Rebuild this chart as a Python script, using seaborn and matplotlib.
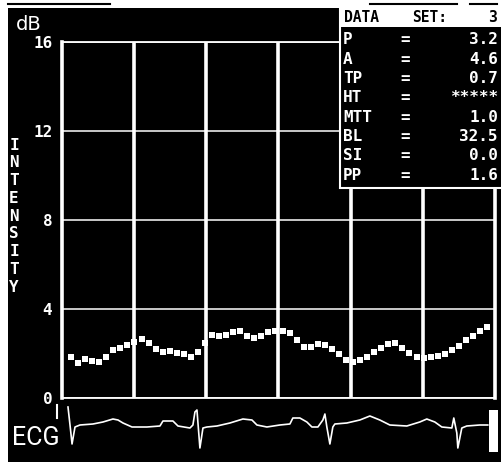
import numpy as np
import pandas as pd
import seaborn as sns
import matplotlib
matplotlib.use("Agg")
import matplotlib.pyplot as plt
from matplotlib.patches import Rectangle
from matplotlib.lines import Line2D

# intensity curve (dB), one value per frame
intensity_db = [1.85, 1.58, 1.76, 1.67, 1.62, 1.85, 2.16, 2.25, 2.39, 2.52,
                2.66, 2.48, 2.21, 2.07, 2.12, 2.03, 1.98, 1.85, 2.07, 2.48,
                2.84, 2.79, 2.84, 2.97, 3.02, 2.79, 2.70, 2.79, 2.97, 3.02,
                3.02, 2.93, 2.61, 2.30, 2.30, 2.43, 2.39, 2.21, 1.98, 1.71,
                1.62, 1.71, 1.85, 2.07, 2.25, 2.43, 2.48, 2.25, 2.03, 1.85,
                1.80, 1.85, 1.89, 1.98, 2.16, 2.34, 2.61, 2.79, 3.02, 3.20]
frame_start = 0.125   # s, first frame
frame_step = 0.0977   # s between frames

# ECG trace (time in s, amplitude in arbitrary units)
ecg_t = [0.083, 0.111, 0.139, 0.180, 0.249, 0.429, 0.568, 0.706, 0.776, 0.845,
         0.970, 1.177, 1.357, 1.399, 1.537, 1.607, 1.773, 1.814, 1.842, 1.870,
         1.911, 1.953, 2.008, 2.147, 2.327, 2.507, 2.632, 2.701, 2.839, 3.019,
         3.158, 3.199, 3.296, 3.393, 3.463, 3.546, 3.615, 3.643, 3.670, 3.712,
         3.753, 3.781, 3.947, 4.127, 4.266, 4.404, 4.543, 4.778, 4.958, 5.055,
         5.166, 5.263, 5.402, 5.429, 5.471, 5.485, 5.540, 5.609, 5.789, 5.900]
ecg_v = [1.9, 0.1, -1.8, -0.1, 0.1, 0.2, 0.4, 0.7, 0.6, 0.3,
         -0.1, -0.1, 0.0, 0.5, 0.5, 0.0, -0.2, 0.1, 1.4, 1.6,
         -2.2, -0.2, -0.1, 0.0, 0.3, 0.7, 0.6, 0.1, -0.1, 0.1,
         0.2, 0.8, 0.8, 0.4, -0.1, -0.1, 0.6, 1.2, -0.1, -1.8,
         -0.1, 0.2, 0.3, 0.6, 1.0, 0.6, 0.1, 0.0, 0.4, 0.7,
         0.4, -0.1, -0.2, 0.8, -0.7, -2.2, -0.2, 0.0, 0.1, 0.1]

y_ticks = [0, 4, 8, 12, 16]
y_ticklabels = ["0", "4", "8", "12", "16"]

table_labels = ["P", "A", "TP", "HT", "MTT", "BL", "SI", "PP"]
table_values = ["3.2", "4.6", "0.7", "*****", "1.0", "32.5", "0.0", "1.6"]
axis_word = "INTENSITY"

W, H = 502, 462
def fx(x): return x / W
def fy(y): return 1 - y / H

MONO = "DejaVu Sans Mono"

fig = plt.figure(figsize=(W / 100, H / 100), dpi=100)
fig.patch.set_facecolor("white")
fig.add_artist(Rectangle((fx(8), 0), 1 - fx(8), fy(8), transform=fig.transFigure,
                         facecolor="black", edgecolor="none", zorder=-10))
# top strip lines
fig.add_artist(Line2D([fx(8), fx(110)], [fy(4), fy(4)], color="black", lw=1.5))
fig.add_artist(Line2D([fx(370), fx(457)], [fy(4), fy(4)], color="black", lw=1.5))
fig.add_artist(Line2D([fx(470), fx(497)], [fy(4), fy(4)], color="black", lw=1.5))

# main intensity plot
ax = fig.add_axes([fx(62), fy(398), fx(495) - fx(62), fy(42) - fy(398)])
ax.set_facecolor("black")
df = pd.DataFrame({"t": frame_start + frame_step * np.arange(len(intensity_db)),
                   "db": intensity_db})
sns.scatterplot(data=df, x="t", y="db", ax=ax, marker="s", s=14, color="white",
                linewidth=0, legend=False, zorder=3)
ax.set_xlim(0, 6)
ax.set_ylim(0, 16)
ax.set_xticks([1, 2, 3, 4, 5])
ax.set_xticklabels([])
ax.set_yticks(y_ticks)
ax.set_yticklabels(y_ticklabels, fontfamily=MONO, fontweight="bold",
                   fontsize=11.5, color="white")
ax.tick_params(length=0, pad=7)
ax.xaxis.grid(True, color="white", lw=2.6)
ax.yaxis.grid(True, color="white", lw=1.1)
ax.set_axisbelow(True)
ax.set_xlabel("")
ax.set_ylabel("")
for side in ["left", "right"]:
    ax.spines[side].set_color("white")
    ax.spines[side].set_linewidth(2.6)
for side in ["top", "bottom"]:
    ax.spines[side].set_color("white")
    ax.spines[side].set_linewidth(1.3)

# ECG strip
ax2 = fig.add_axes([fx(62), fy(455), fx(495) - fx(62), fy(400) - fy(455)])
ax2.patch.set_alpha(0)
ecg = pd.DataFrame({"t": ecg_t, "v": ecg_v})
sns.lineplot(data=ecg, x="t", y="v", ax=ax2, color="white", lw=1.2,
             estimator=None, sort=False)
ax2.set_xlim(0, 6)
ax2.set_ylim(-2.9, 2.6)
ax2.axis("off")

# texts
fig.text(fx(16), fy(24), "dB", color="white", fontsize=14, ha="left", va="center")
fig.text(fx(12), fy(438), "ECG", color="white", family="Roboto", fontsize=18,
         ha="left", va="center")
for i, ch in enumerate(axis_word):
    fig.text(fx(14), fy(145 + 17.8 * i), ch, color="white", family=MONO,
             fontweight="bold", fontsize=11.5, ha="center", va="center")
fig.add_artist(Line2D([fx(57), fx(57)], [fy(405), fy(418)], color="white", lw=1.5))
fig.add_artist(Rectangle((fx(489), fy(452)), fx(9), (452 - 410) / H,
                         transform=fig.transFigure, facecolor="white",
                         edgecolor="none", zorder=5))

# data box
fig.add_artist(Rectangle((fx(340), fy(188)), fx(170), (188 - 9) / H,
                         transform=fig.transFigure, facecolor="black",
                         edgecolor="white", lw=1.5, zorder=10))
fig.add_artist(Rectangle((fx(340), fy(27)), fx(170), (27 - 9) / H,
                         transform=fig.transFigure, facecolor="white",
                         edgecolor="none", zorder=11))
fig.text(fx(344), fy(18), "DATA", color="black", family=MONO, fontweight="bold",
         fontsize=10.5, ha="left", va="center", zorder=12)
fig.text(fx(412), fy(18), "SET:", color="black", family=MONO, fontweight="bold",
         fontsize=10.5, ha="left", va="center", zorder=12)
fig.text(fx(497), fy(18), "3", color="black", family=MONO, fontweight="bold",
         fontsize=10.5, ha="right", va="center", zorder=12)
for i, (lab, val) in enumerate(zip(table_labels, table_values)):
    yy = fy(40 + 19.3 * i)
    fig.text(fx(343), yy, lab, color="white", family=MONO, fontweight="bold",
             fontsize=11.5, ha="left", va="center", zorder=12)
    fig.text(fx(405), yy, "=", color="white", family=MONO, fontweight="bold",
             fontsize=11.5, ha="center", va="center", zorder=12)
    fig.text(fx(498), yy, val, color="white", family=MONO, fontweight="bold",
             fontsize=11.5, ha="right", va="center", zorder=12)

fig.savefig("out.png", dpi=100, facecolor=fig.get_facecolor())
